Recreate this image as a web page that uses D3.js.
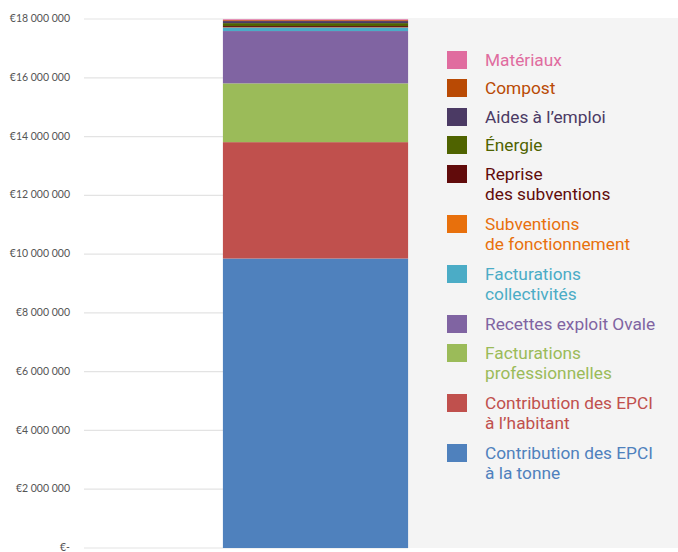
<!DOCTYPE html>
<html><head><meta charset="utf-8">
<script src="https://cdn.jsdelivr.net/npm/d3@7"></script>
<style>body{margin:0;background:#fff}svg{display:block}</style>
</head><body>
<script>
const categories = ["Total"];
const seriesNames = ["Contribution des EPCI\nà la tonne","Contribution des EPCI\nà l’habitant","Facturations\nprofessionnelles","Recettes exploit Ovale","Facturations\ncollectivités","Subventions\nde fonctionnement","Reprise\ndes subventions","Énergie","Aides à l’emploi","Compost","Matériaux"];
const seriesValues = [9850000, 3960000, 2000000, 1780000, 120000, 10000, 40000, 100000, 70000, 30000, 30000];
const seriesColors = ["#4f81bd","#c0504d","#9bbb59","#8064a2","#4bacc6","#e8700c","#610b0b","#4f6300","#4b3a64","#b94a04","#e06c9f"];
const tickValues = [0,2000000,4000000,6000000,8000000,10000000,12000000,14000000,16000000,18000000];

const W=678,H=552;
const svg=d3.select("body").append("svg").attr("width",W).attr("height",H);
const y=d3.scaleLinear().domain([0,18000000]).range([548,19]);
const x=d3.scaleBand().domain(categories).range([84,547]).padding(0.4286);

svg.append("g").selectAll("line").data(tickValues).join("line")
 .attr("x1",84).attr("x2",408).attr("y1",d=>y(d)).attr("y2",d=>y(d))
 .attr("stroke","#e3e3e3").attr("stroke-width",1.2);
const fmt=d=> d===0?"€-":"€"+d3.format(",")(d).replace(/,/g," ");
svg.append("g").selectAll("text").data(tickValues).join("text")
 .attr("x",70).attr("y",d=>y(d)).attr("dy","0.3em").attr("text-anchor","end")
 .attr("font-family","Lato, sans-serif").attr("font-size",10.5).attr("fill","#555")
 .text(fmt);
svg.append("rect").attr("x",408).attr("y",18).attr("width",W-408).attr("height",530).attr("fill","#f4f4f4");

const row={}; seriesNames.forEach((n,i)=>row[n]=seriesValues[i]);
const stack=d3.stack().keys(seriesNames)([Object.assign({cat:categories[0]},row)]);
svg.append("g").selectAll("rect").data(stack).join("rect")
 .attr("x",x(categories[0])).attr("width",x.bandwidth())
 .attr("y",d=>y(d[0][1])).attr("height",d=>y(d[0][0])-y(d[0][1]))
 .attr("fill",(d,i)=>seriesColors[i]);

const legTops=[51,79,108,136,165,215,265,315,344,394,444];
const order=d3.range(seriesNames.length).reverse();
const lg=svg.append("g");
order.forEach((si,k)=>{
  const top=legTops[k];
  lg.append("rect").attr("x",447).attr("y",top).attr("width",20).attr("height",18).attr("fill",seriesColors[si]);
  const t=lg.append("text").attr("x",485).attr("y",top+14.5)
   .attr("font-family","Roboto, sans-serif").attr("font-size",17.3).attr("fill",seriesColors[si]);
  seriesNames[si].split("\n").forEach((ln,j)=>{
    t.append("tspan").attr("x",485).attr("dy",j?20.5:0).text(ln);
  });
});
</script>
</body></html>
